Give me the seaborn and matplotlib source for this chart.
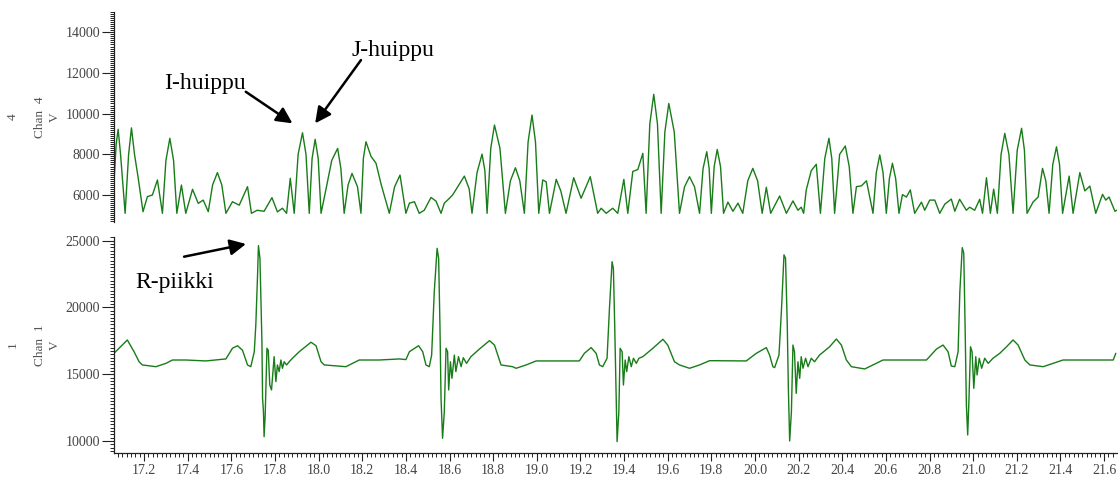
import matplotlib
matplotlib.use("Agg")
import matplotlib.pyplot as plt
import seaborn as sns
from matplotlib.ticker import MultipleLocator, FixedLocator

# ---------------- data ----------------
bcg_time = [17.062, 17.072, 17.081, 17.092, 17.113, 17.129, 17.142, 17.156, 17.172, 17.195,
            17.215, 17.238, 17.261, 17.284, 17.300, 17.318, 17.335, 17.350, 17.371, 17.391,
            17.422, 17.448, 17.471, 17.494, 17.514, 17.536, 17.556, 17.575, 17.605, 17.636,
            17.674, 17.692, 17.718, 17.750, 17.786, 17.811, 17.834, 17.853, 17.870, 17.888,
            17.906, 17.926, 17.942, 17.957, 17.970, 17.984, 17.998, 18.011, 18.033, 18.060,
            18.087, 18.102, 18.117, 18.135, 18.153, 18.178, 18.194, 18.205, 18.217, 18.240,
            18.263, 18.287, 18.324, 18.348, 18.373, 18.400, 18.416, 18.439, 18.461, 18.484,
            18.515, 18.538, 18.561, 18.576, 18.591, 18.614, 18.668, 18.690, 18.703, 18.726,
            18.749, 18.762, 18.772, 18.789, 18.806, 18.831, 18.856, 18.879, 18.902, 18.922,
            18.943, 18.960, 18.978, 18.994, 19.009, 19.027, 19.043, 19.058, 19.089, 19.110,
            19.134, 19.169, 19.203, 19.245, 19.279, 19.295, 19.318, 19.348, 19.371, 19.399,
            19.417, 19.440, 19.463, 19.486, 19.501, 19.518, 19.536, 19.553, 19.570, 19.587,
            19.605, 19.630, 19.654, 19.677, 19.700, 19.723, 19.746, 19.762, 19.779, 19.790,
            19.800, 19.813, 19.827, 19.842, 19.856, 19.876, 19.899, 19.922, 19.944, 19.967,
            19.990, 20.012, 20.033, 20.052, 20.072, 20.113, 20.144, 20.174, 20.197, 20.212,
            20.223, 20.235, 20.258, 20.281, 20.300, 20.320, 20.339, 20.352, 20.365, 20.388,
            20.414, 20.432, 20.449, 20.465, 20.488, 20.511, 20.541, 20.556, 20.572, 20.587,
            20.602, 20.616, 20.630, 20.645, 20.660, 20.676, 20.694, 20.712, 20.732, 20.763,
            20.778, 20.801, 20.824, 20.847, 20.870, 20.900, 20.916, 20.938, 20.969, 20.984,
            21.007, 21.030, 21.043, 21.061, 21.079, 21.094, 21.111, 21.128, 21.145, 21.164,
            21.183, 21.202, 21.222, 21.235, 21.247, 21.275, 21.298, 21.318, 21.333, 21.348,
            21.365, 21.382, 21.396, 21.410, 21.440, 21.458, 21.489, 21.512, 21.535, 21.562,
            21.593, 21.608, 21.623, 21.650, 21.658]
bcg_value = [6650, 8500, 9230, 8000, 5100, 8000, 9300, 8000, 6900, 5180,
             5920, 6000, 6740, 5100, 7700, 8790, 7700, 5100, 6490, 5100,
             6280, 5590, 5750, 5180, 6500, 7100, 6500, 5100, 5670, 5500,
             6410, 5100, 5250, 5200, 5870, 5170, 5350, 5100, 6820, 5100,
             8000, 9060, 8000, 5100, 7800, 8740, 7800, 5100, 6250, 7700,
             8290, 7300, 5100, 6500, 7060, 6410, 5100, 7800, 8620, 7900,
             7560, 6500, 5100, 6400, 6980, 5100, 5600, 5670, 5100, 5250,
             5880, 5700, 5100, 5600, 5750, 6000, 6930, 6300, 5100, 7100,
             8010, 7200, 5100, 8300, 9440, 8300, 5100, 6700, 7340, 6700,
             5100, 8600, 9930, 8600, 5100, 6740, 6650, 5100, 6770, 6200,
             5100, 6850, 5840, 6900, 5100, 5350, 5100, 5350, 5100, 6770,
             5100, 7160, 7250, 8050, 5100, 9500, 10950, 9500, 5100, 9100,
             10500, 9100, 5100, 6400, 6900, 6400, 5100, 7300, 8130, 7300,
             5100, 7400, 8240, 7400, 5100, 5650, 5200, 5600, 5100, 6700,
             7310, 6700, 5100, 6380, 5100, 5950, 5100, 5710, 5250, 5400,
             5100, 6250, 7200, 7510, 5100, 7800, 8790, 7800, 5100, 8000,
             8410, 7400, 5100, 6410, 6450, 6700, 5100, 7100, 7970, 7100,
             5100, 6800, 7560, 6800, 5100, 6020, 5900, 6250, 5100, 5650,
             5250, 5750, 5750, 5100, 5550, 5800, 5200, 5790, 5250, 5400,
             5250, 5790, 5100, 6850, 5100, 6290, 5100, 8000, 9030, 8000,
             5100, 8200, 9280, 8200, 5100, 5660, 5900, 7310, 6700, 5100,
             7500, 8370, 7500, 5100, 6930, 5100, 7100, 6200, 6440, 5100,
             6030, 5750, 5900, 5200, 5250]

ecg_time = [17.062, 17.123, 17.154, 17.177, 17.192, 17.254, 17.300, 17.330, 17.391, 17.483,
            17.575, 17.605, 17.628, 17.651, 17.674, 17.689, 17.705, 17.712, 17.720, 17.724,
            17.731, 17.740, 17.743, 17.747, 17.750, 17.755, 17.763, 17.769, 17.776, 17.784,
            17.796, 17.804, 17.811, 17.819, 17.827, 17.834, 17.842, 17.853, 17.865, 17.880,
            17.911, 17.965, 17.988, 18.011, 18.026, 18.125, 18.186, 18.278, 18.370, 18.400,
            18.416, 18.458, 18.477, 18.492, 18.507, 18.518, 18.530, 18.543, 18.550, 18.556,
            18.561, 18.568, 18.576, 18.584, 18.591, 18.596, 18.604, 18.611, 18.622, 18.629,
            18.641, 18.653, 18.663, 18.678, 18.698, 18.737, 18.783, 18.806, 18.836, 18.889,
            18.905, 18.951, 18.997, 19.195, 19.218, 19.249, 19.272, 19.287, 19.302, 19.322,
            19.333, 19.345, 19.351, 19.357, 19.364, 19.368, 19.376, 19.382, 19.391, 19.397,
            19.405, 19.412, 19.422, 19.433, 19.443, 19.456, 19.468, 19.486, 19.532, 19.578,
            19.600, 19.631, 19.654, 19.700, 19.746, 19.792, 19.960, 20.006, 20.052, 20.067,
            20.082, 20.090, 20.110, 20.121, 20.133, 20.140, 20.148, 20.153, 20.159, 20.167,
            20.174, 20.181, 20.189, 20.197, 20.205, 20.212, 20.220, 20.232, 20.243, 20.258,
            20.273, 20.296, 20.342, 20.373, 20.396, 20.419, 20.442, 20.503, 20.541, 20.587,
            20.786, 20.832, 20.862, 20.885, 20.900, 20.916, 20.931, 20.939, 20.950, 20.957,
            20.963, 20.969, 20.975, 20.981, 20.988, 20.995, 21.003, 21.012, 21.018, 21.028,
            21.039, 21.053, 21.069, 21.091, 21.122, 21.153, 21.183, 21.206, 21.237, 21.260,
            21.321, 21.367, 21.412, 21.642, 21.654]
ecg_value = [16570, 17570, 16690, 15940, 15700, 15570, 15820, 16070, 16070, 16000,
             16150, 16950, 17140, 16800, 15700, 15570, 16690, 18690, 22430, 24630,
             23680, 17440, 13200, 12200, 10330, 11950, 16950, 16800, 14200, 13830,
             16320, 14450, 15700, 15200, 16070, 15450, 15940, 15700, 15940, 16200,
             16690, 17400, 17140, 15940, 15700, 15570, 16070, 16070, 16150, 16100,
             16690, 17140, 16690, 15700, 15570, 16440, 21180, 24430, 23680, 18690,
             13200, 10210, 12200, 16950, 16700, 13830, 15940, 14700, 16440, 15200,
             16320, 15570, 16240, 15820, 16320, 16890, 17520, 17190, 15700, 15570,
             15450, 15700, 16000, 16000, 16570, 17000, 16570, 15700, 15570, 16200,
             19940, 23430, 22930, 18690, 13200, 9960, 12200, 16950, 16690, 14200,
             16070, 15200, 16320, 15570, 16200, 15820, 16200, 16320, 16950, 17620,
             17190, 15940, 15700, 15450, 15700, 16020, 16000, 16570, 17000, 16440,
             15570, 15500, 16440, 19690, 23940, 23680, 18690, 13950, 10010, 12200,
             17190, 16690, 13570, 15940, 14700, 16320, 15450, 16200, 15570, 16200,
             15940, 16440, 17060, 17640, 17190, 16070, 15570, 15400, 15700, 16070,
             16070, 16890, 17190, 16690, 15620, 15570, 16690, 21180, 24480, 24060,
             18690, 12700, 10460, 13200, 17060, 16690, 13950, 16320, 14950, 16200,
             15450, 16200, 15820, 16200, 16570, 17060, 17570, 17190, 16070, 15700,
             15570, 15820, 16070, 16070, 16570]

x_ticks = [17.2, 17.4, 17.6, 17.8, 18.0, 18.2, 18.4, 18.6, 18.8, 19.0, 19.2, 19.4,
           19.6, 19.8, 20.0, 20.2, 20.4, 20.6, 20.8, 21.0, 21.2, 21.4, 21.6]
bcg_yticks = [6000, 8000, 10000, 12000, 14000]
ecg_yticks = [10000, 15000, 20000, 25000]
channel_names = ["Chan  4", "Chan  1"]
channel_ids = ["4", "1"]
unit = "V"
annotations = ["I-huippu", "J-huippu", "R-piikki"]

# ---------------- style ----------------
sns.set_style("ticks")
plt.rcParams['font.family'] = ['Liberation Serif', 'DejaVu Serif']

W, H = 1118, 484
fig = plt.figure(figsize=(W / 100, H / 100), dpi=100)

def fx(px):
    return px / W

def fy(py):
    return 1 - py / H

left_px, right_px = 114, 1116.7
ax1 = fig.add_axes([fx(left_px), fy(222), fx(right_px - left_px), (222 - 11.7) / H])
ax2 = fig.add_axes([fx(left_px), fy(453.3), fx(right_px - left_px), (453.3 - 236.7) / H])

line_color = '#187c18'
sns.lineplot(x=bcg_time, y=bcg_value, ax=ax1, color=line_color, linewidth=1.0,
             estimator=None, sort=False, errorbar=None)
sns.lineplot(x=ecg_time, y=ecg_value, ax=ax2, color=line_color, linewidth=1.0,
             estimator=None, sort=False, errorbar=None)

xlim = (17.062, 21.658)
for ax in (ax1, ax2):
    ax.set_xlim(*xlim)
    ax.set_xlabel("")
    ax.set_ylabel("")
    for s in ("top", "right"):
        ax.spines[s].set_visible(False)
    ax.spines["left"].set_color("#222222")
    ax.spines["left"].set_linewidth(0.9)

ax1.set_ylim(4673, 15012)
ax2.set_ylim(9087, 25299)

# top panel: no x axis
ax1.spines["bottom"].set_visible(False)
ax1.tick_params(axis="x", which="both", bottom=False, labelbottom=False)

ax1.yaxis.set_major_locator(FixedLocator(bcg_yticks))
ax1.yaxis.set_minor_locator(MultipleLocator(100))
ax2.yaxis.set_major_locator(FixedLocator(ecg_yticks))
ax2.yaxis.set_minor_locator(MultipleLocator(250))
ax2.xaxis.set_major_locator(FixedLocator(x_ticks))
ax2.xaxis.set_minor_locator(MultipleLocator(0.02))
ax2.set_xticklabels([f"{v:.1f}" for v in x_ticks])
ax2.spines["bottom"].set_color("#222222")
ax2.spines["bottom"].set_linewidth(0.9)

for ax in (ax1, ax2):
    ax.tick_params(axis="y", which="major", length=8.5, width=0.8, color="#222222",
                   pad=1.5, labelsize=10, labelcolor="#444444")
    ax.tick_params(axis="y", which="minor", length=3, width=0.7, color="#222222")
ax2.tick_params(axis="x", which="major", length=5.5, width=0.8, color="#222222",
                pad=2.5, labelsize=10, labelcolor="#444444")
ax2.tick_params(axis="x", which="minor", length=3, width=0.7, color="#222222")

# channel labels on the left
lab_kw = dict(rotation=90, ha="center", va="center", fontsize=9.5, color="#555555")
for (yc, name, cid) in ((116.9, channel_names[0], channel_ids[0]),
                        (345.0, channel_names[1], channel_ids[1])):
    fig.text(fx(40), fy(yc), name, **lab_kw)
    fig.text(fx(55), fy(yc), unit, **lab_kw)
    fig.text(fx(13), fy(yc), cid, **lab_kw)

# annotations
arrow_kw = dict(arrowstyle="-|>", color="black", lw=1.8, mutation_scale=24,
                shrinkA=0, shrinkB=0)
ax1.text(17.290, 11209, annotations[0], fontsize=17, color="black", ha="left", va="baseline")
ax1.annotate("", xy=(17.880, 9523), xytext=(17.666, 11076), arrowprops=arrow_kw)
ax1.text(18.150, 12830, annotations[1], fontsize=17, color="black", ha="left", va="baseline")
ax1.annotate("", xy=(17.984, 9523), xytext=(18.194, 12634), arrowprops=arrow_kw)
ax2.text(17.162, 21460, annotations[2], fontsize=17, color="black", ha="left", va="baseline")
ax2.annotate("", xy=(17.667, 24753), xytext=(17.383, 23802), arrowprops=arrow_kw,
             annotation_clip=False)

fig.savefig("out.png", dpi=100)
